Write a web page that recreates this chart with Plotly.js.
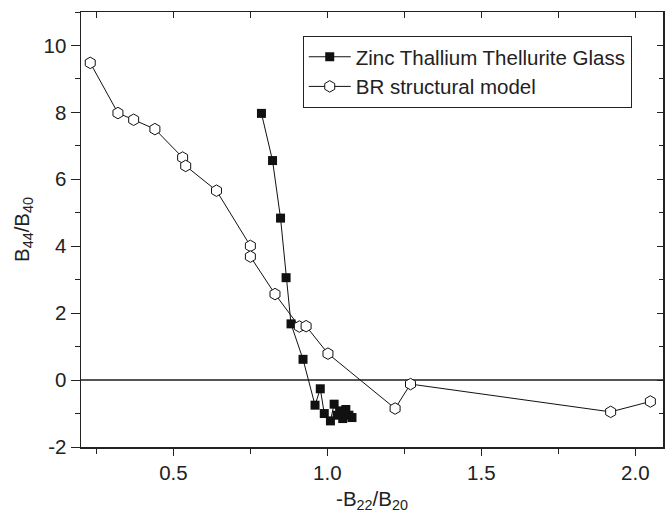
<!DOCTYPE html>
<html>
<head>
<meta charset="utf-8">
<script src="https://cdn.plot.ly/plotly-3.0.1.min.js"></script>
<style>html,body{margin:0;padding:0;background:#fff;}#chart{width:665px;height:518px;}</style>
</head>
<body>
<div id="chart"></div>
<script>
// Zinc Thallium Thellurite Glass
const glassX = [0.786, 0.822, 0.848, 0.866, 0.882, 0.921, 0.960, 0.977, 0.990, 1.010, 1.022, 1.032, 1.042, 1.050, 1.060, 1.070, 1.080];
const glassY = [7.97, 6.56, 4.84, 3.06, 1.68, 0.62, -0.75, -0.26, -1.00, -1.22, -0.72, -1.05, -0.92, -1.15, -0.88, -1.05, -1.12];
// BR structural model
const brX = [0.23, 0.32, 0.371, 0.44, 0.53, 0.54, 0.64, 0.75, 0.75, 0.83, 0.909, 0.931, 1.002, 1.22, 1.27, 1.92, 2.049];
const brY = [9.48, 7.98, 7.78, 7.50, 6.65, 6.40, 5.66, 4.01, 3.69, 2.57, 1.60, 1.61, 0.79, -0.85, -0.12, -0.95, -0.64];

const xTickVals = [0.5, 1.0, 1.5, 2.0];
const xTickText = ['0.5', '1.0', '1.5', '2.0'];
const yTickVals = [-2, 0, 2, 4, 6, 8, 10];
const yTickText = ['-2', '0', '2', '4', '6', '8', '10'];

const FONT = 'Liberation Sans, Arial, sans-serif';
const FS = 20.5;
const XR = [0.2, 2.09], YR = [-2, 11];

const traces = [
  {x: glassX, y: glassY, mode: 'lines+markers', name: 'Zinc Thallium Thellurite Glass',
   line: {color: '#111', width: 1},
   marker: {symbol: 'square', size: 9, color: '#111'}},
  {x: brX, y: brY, mode: 'lines+markers', name: 'BR structural model',
   line: {color: '#111', width: 1},
   marker: {symbol: 'hexagon', size: 11.5, color: '#fff', line: {color: '#111', width: 1}}},
  {x: [], y: [], xaxis: 'x2', yaxis: 'y2', showlegend: false, hoverinfo: 'skip'}
];

const layout = {
  width: 665, height: 518,
  margin: {l: 81, r: 2, t: 12, b: 71},
  paper_bgcolor: '#fff', plot_bgcolor: '#fff',
  font: {family: FONT, size: FS, color: '#222'},
  showlegend: true,
  legend: {x: 0.381, y: 0.945, xanchor: 'left', yanchor: 'top',
           bgcolor: '#fff', bordercolor: '#222', borderwidth: 1,
           font: {family: FONT, size: FS, color: '#222'},
           tracegroupgap: 0, itemwidth: 42},
  xaxis: {range: XR, showgrid: false, zeroline: false,
          showline: true, linecolor: '#222', linewidth: 1.5,
          tickmode: 'array', tickvals: xTickVals, ticktext: xTickText,
          ticks: 'outside', ticklen: 7, tickcolor: '#222', tickwidth: 1,
          minor: {dtick: 0.25, tick0: 0, ticks: 'outside', ticklen: 5, tickcolor: '#222'},
          tickfont: {family: FONT, size: FS, color: '#222'},
          title: {text: '-B<sub>22</sub>/B<sub>20</sub>', font: {family: FONT, size: FS, color: '#222'}, standoff: 8}},
  yaxis: {range: YR, showgrid: false,
          zeroline: true, zerolinecolor: '#555', zerolinewidth: 1.3,
          showline: true, linecolor: '#222', linewidth: 1.5,
          tickmode: 'array', tickvals: yTickVals, ticktext: yTickText,
          ticks: 'outside', ticklen: 9, tickcolor: '#222', tickwidth: 1,
          minor: {dtick: 1, tick0: 0, ticks: 'outside', ticklen: 5, tickcolor: '#222'},
          tickfont: {family: FONT, size: FS, color: '#222'},
          title: {text: 'B<sub>44</sub>/B<sub>40</sub>', font: {family: FONT, size: FS, color: '#222'}, standoff: 8}},
  xaxis2: {range: XR, overlaying: 'x', side: 'top', anchor: 'y2', showgrid: false, zeroline: false,
           showline: true, linecolor: '#222', linewidth: 1.5,
           tickmode: 'array', tickvals: xTickVals, showticklabels: false,
           ticks: 'inside', ticklen: 6, tickcolor: '#222',
           minor: {dtick: 0.25, tick0: 0, ticks: 'inside', ticklen: 6, tickcolor: '#222'}},
  yaxis2: {range: YR, overlaying: 'y', side: 'right', anchor: 'x2', showgrid: false, zeroline: false,
           showline: true, linecolor: '#222', linewidth: 1.5,
           tickmode: 'array', tickvals: yTickVals, showticklabels: false,
           ticks: 'inside', ticklen: 6, tickcolor: '#222',
           minor: {dtick: 1, tick0: 0, ticks: 'inside', ticklen: 4, tickcolor: '#222'}}
};

Plotly.newPlot('chart', traces, layout, {displayModeBar: false, staticPlot: true});
</script>
</body>
</html>
